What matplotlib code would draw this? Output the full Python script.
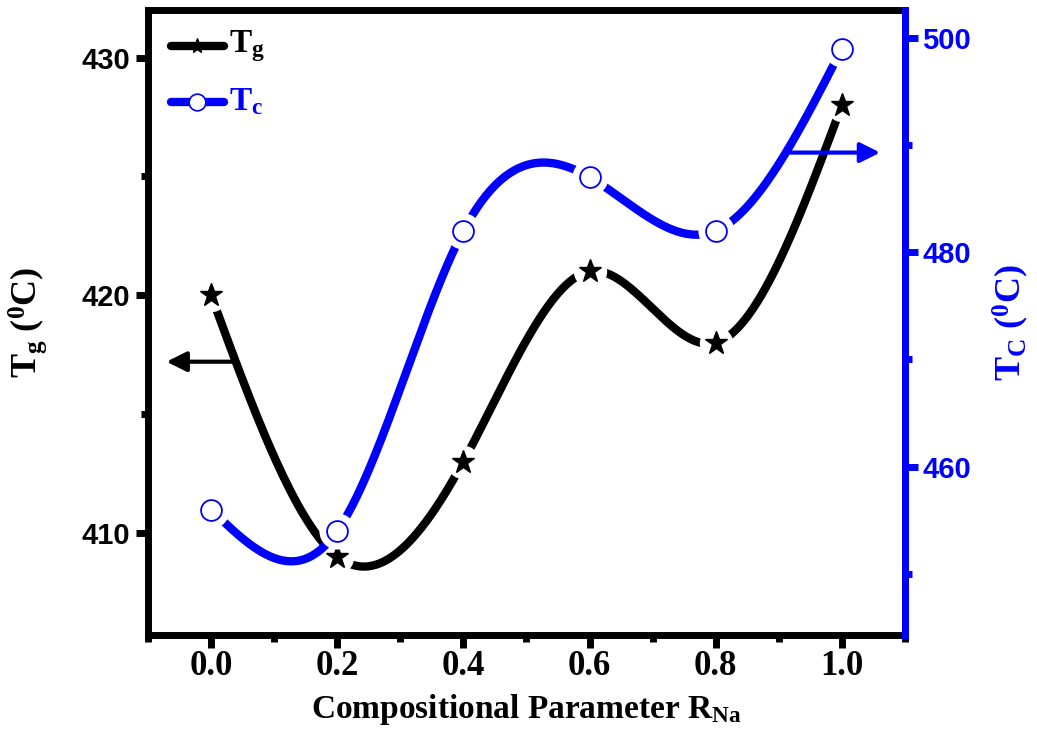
import numpy as np
import matplotlib.pyplot as plt
from matplotlib.ticker import MultipleLocator

plt.rcParams['mathtext.fontset'] = 'custom'
plt.rcParams['mathtext.bf'] = 'Liberation Serif:bold'
plt.rcParams['mathtext.rm'] = 'Liberation Serif:bold'
plt.rcParams['mathtext.it'] = 'Liberation Serif:bold'

# data
r_na = [0.0, 0.2, 0.4, 0.6, 0.8, 1.0]
tg = [420, 409, 413, 421, 418, 428]
tc = [456, 454, 482, 487, 482, 499]


def natural_spline(x, y, n=300):
    # natural cubic spline, used only to draw the smooth connecting line
    x = np.asarray(x, float)
    y = np.asarray(y, float)
    k = len(x)
    h = np.diff(x)
    A = np.zeros((k, k))
    b = np.zeros(k)
    A[0, 0] = A[-1, -1] = 1
    for i in range(1, k - 1):
        A[i, i - 1] = h[i - 1]
        A[i, i] = 2 * (h[i - 1] + h[i])
        A[i, i + 1] = h[i]
        b[i] = 6 * ((y[i + 1] - y[i]) / h[i] - (y[i] - y[i - 1]) / h[i - 1])
    M = np.linalg.solve(A, b)
    xs = np.linspace(x[0], x[-1], n)
    idx = np.clip(np.searchsorted(x, xs) - 1, 0, k - 2)
    x0, x1 = x[idx], x[idx + 1]
    hh = x1 - x0
    ys = (M[idx] * (x1 - xs) ** 3 / (6 * hh) + M[idx + 1] * (xs - x0) ** 3 / (6 * hh)
          + (y[idx] / hh - M[idx] * hh / 6) * (x1 - xs)
          + (y[idx + 1] / hh - M[idx + 1] * hh / 6) * (xs - x0))
    return xs, ys


serif = 'Liberation Serif'
sans = 'Liberation Sans'
blue = '#0000ff'

fig = plt.figure(figsize=(10.37, 7.4), dpi=100)
ax = fig.add_axes([0.1427, 0.1419, 0.7300, 0.8446])
ax2 = ax.twinx()

# Tg on left axis
xs, ys = natural_spline(r_na, tg)
ax.plot(xs, ys, color='black', lw=6, solid_capstyle='round', zorder=2)
ax.plot(r_na, tg, 'o', ms=24, color='white', mec='none', zorder=3)
ax.plot(r_na, tg, '*', ms=17, color='black', zorder=4)

# Tc on right axis
xs, ys = natural_spline(r_na, tc)
ax2.plot(xs, ys, color=blue, lw=6, solid_capstyle='round', zorder=2)
ax2.plot(r_na, tc, 'o', ms=26, color='white', mec='none', zorder=3)
ax2.plot(r_na, tc, 'o', ms=15, mfc='white', mec=blue, mew=1.3, zorder=4)

ax.set_xlim(-0.1, 1.1)
ax.set_ylim(405.7, 432.0)
ax2.set_ylim(444.3, 502.6)

ax.xaxis.set_minor_locator(MultipleLocator(0.1))
ax.yaxis.set_minor_locator(MultipleLocator(5))
ax2.yaxis.set_minor_locator(MultipleLocator(10))

for a in (ax, ax2):
    for s in a.spines.values():
        s.set_linewidth(5)
ax2.spines['right'].set_color(blue)
ax2.spines['left'].set_visible(False)
ax2.spines['top'].set_visible(False)
ax2.spines['bottom'].set_visible(False)

ax.tick_params(which='major', direction='out', length=9, width=5, top=False, right=False)
ax.tick_params(which='minor', direction='out', length=5, width=5, top=False, right=False)
ax.tick_params(axis='x', pad=2)
ax2.tick_params(axis='y', which='major', direction='out', length=9, width=5, colors=blue)
ax2.tick_params(axis='y', which='minor', direction='out', length=5, width=5, colors=blue)

ax.set_xticks([0.0, 0.2, 0.4, 0.6, 0.8, 1.0])
ax.set_xticklabels(['0.0', '0.2', '0.4', '0.6', '0.8', '1.0'], fontfamily=serif,
                   fontweight='bold', fontsize=25)
ax.set_yticks([410, 420, 430])
ax.set_yticklabels(['410', '420', '430'], fontfamily=sans, fontweight='bold', fontsize=21)
ax2.set_yticks([460, 480, 500])
ax2.set_yticklabels(['460', '480', '500'], fontfamily=sans, fontweight='bold',
                    fontsize=21, color=blue)

ax.set_xlabel(r'Compositional Parameter R$_{\mathbf{Na}}$', fontfamily=serif,
              fontweight='bold', fontsize=24, labelpad=6)
ax.set_ylabel(r'T$_{\mathbf{g}}$ ($^{\mathbf{0}}$C)', fontfamily=serif,
              fontweight='bold', fontsize=26, labelpad=24)
ax2.set_ylabel(r'T$_{\mathbf{C}}$ ($^{\mathbf{0}}$C)', fontfamily=serif,
               fontweight='bold', fontsize=26, color=blue, labelpad=14)

# arrows pointing at each axis
ax.annotate('', xy=(-0.075, 417.2), xytext=(0.04, 417.2),
            arrowprops=dict(arrowstyle='-|>', color='black', lw=3, mutation_scale=30))
ax2.annotate('', xy=(1.065, 489.3), xytext=(0.91, 489.3),
             arrowprops=dict(arrowstyle='-|>', color=blue, lw=3, mutation_scale=30))

# legend drawn by hand in axes coordinates
ax.plot([0.03, 0.10], [0.943, 0.943], transform=ax.transAxes, color='black', lw=6,
        solid_capstyle='round', zorder=5)
ax.plot([0.065], [0.943], '*', transform=ax.transAxes, color='black', ms=11, zorder=6)
ax.text(0.107, 0.943, r'T$_{\mathbf{g}}$', transform=ax.transAxes, fontfamily=serif,
        fontweight='bold', fontsize=24, va='center')
ax.plot([0.03, 0.10], [0.853, 0.853], transform=ax.transAxes, color=blue, lw=6,
        solid_capstyle='round', zorder=5)
ax.plot([0.065], [0.853], 'o', transform=ax.transAxes, mfc='white', mec=blue,
        ms=12, mew=1.2, zorder=6)
ax.text(0.107, 0.853, r'T$_{\mathbf{c}}$', transform=ax.transAxes, fontfamily=serif,
        fontweight='bold', fontsize=24, va='center', color=blue)

fig.savefig('out.png', dpi=100)
